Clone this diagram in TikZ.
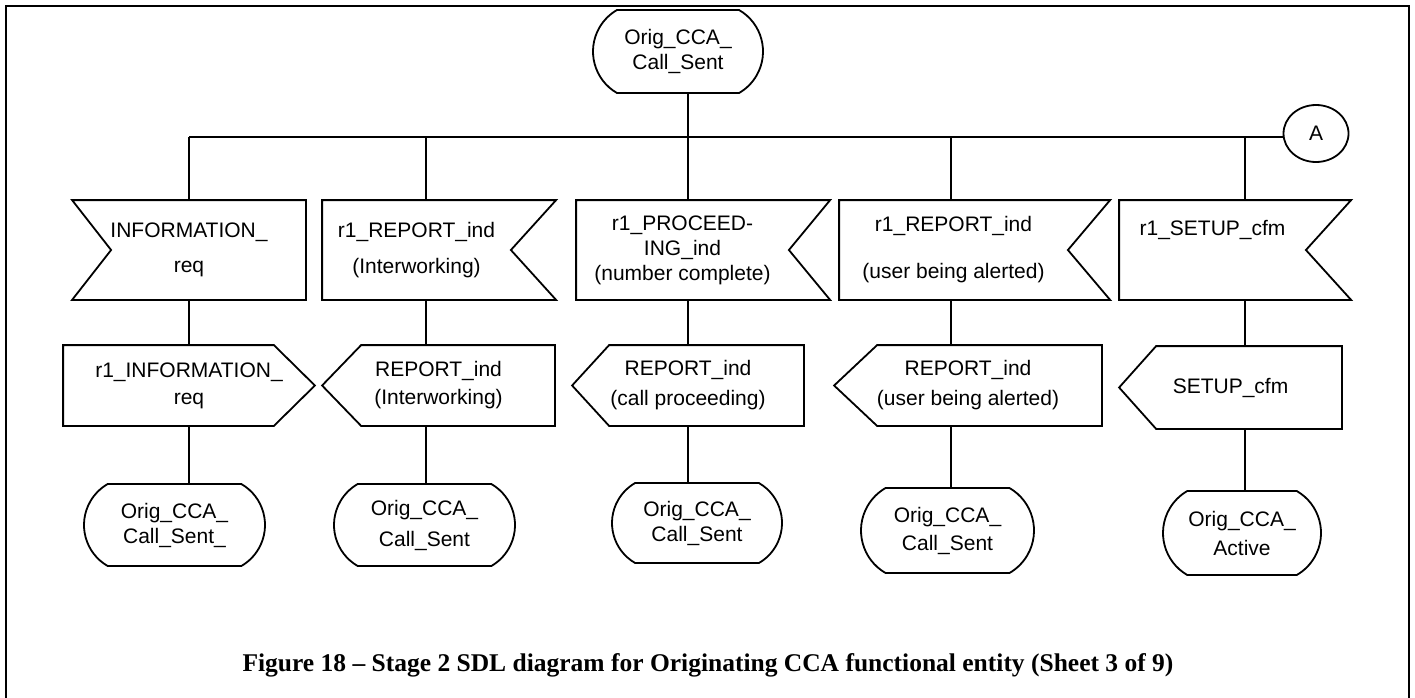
\documentclass[tikz,border=0pt]{standalone}
\usepackage{fontspec}
\setmainfont{Liberation Sans}
\newfontfamily\capfont{Liberation Serif}
\usetikzlibrary{shapes.misc}
\usetikzlibrary{shapes.geometric}
\usetikzlibrary{calc}
\newcommand{\sdlfont}{\fontsize{21}{25}\selectfont}

\begin{document}
\begin{tikzpicture}[x=1pt,y=1pt,yscale=-1,xscale=1,line width=1.8pt,
  sdl/.style={inner sep=0pt,align=center,font=\sdlfont},
  state/.style={sdl,draw,rounded rectangle,rounded rectangle arc length=120},
  sigbox/.style={sdl}]
\useasboundingbox (0,0) rectangle (1415,697);

%Frame
\draw (6,705) -- (6,6) -- (1409,6) -- (1409,705) ;

%State (start)
\node[state,minimum width=170,minimum height=83] (top) at (678,51.5) {Orig\_CCA\_\\Call\_Sent};
%Connector
\node[sdl,draw,ellipse,minimum width=65,minimum height=57] (A) at (1316,133.5) {A};

%Bus and columns
\coordinate (b1) at (189,137);
\coordinate (b2) at (426,137);
\coordinate (b3) at (688,137);
\coordinate (b4) at (951,137);
\coordinate (b5) at (1245,137);
\draw (b1) -- (b1 -| A.west) ;

%Input signals
\node[sigbox,minimum width=232,minimum height=98] (in1) at (189,250) {INFORMATION\_\\[10pt]req};
\draw (in1.north west) -- (in1.north east) -- (in1.south east) -- (in1.south west) -- ($(in1.west)+(39,0)$) -- cycle ;

\node[sigbox,minimum width=187,minimum height=98] (in2) at (416.5,250) {r1\_REPORT\_ind\\[11pt](Interworking)};
\draw (in2.north west) -- ($(in2.north west)+(234,0)$) -- (in2.east) -- ($(in2.south west)+(234,0)$) -- (in2.south west) -- cycle ;

\node[sigbox,minimum width=211,minimum height=98] (in3) at (682.5,250) {r1\_PROCEED-\\ING\_ind\\(number complete)};
\draw (in3.north west) -- ($(in3.north west)+(254,0)$) -- (in3.east) -- ($(in3.south west)+(254,0)$) -- (in3.south west) -- cycle ;

\node[sigbox,minimum width=227,minimum height=98] (in4) at (953.5,250) {r1\_REPORT\_ind\\[22pt](user being alerted)};
\draw (in4.north west) -- ($(in4.north west)+(271,0)$) -- (in4.east) -- ($(in4.south west)+(271,0)$) -- (in4.south west) -- cycle ;

\node[sigbox,minimum width=185,minimum height=98] (in5) at (1212.5,250) {r1\_SETUP\_cfm\\[20pt]~};
\draw (in5.north west) -- ($(in5.north west)+(232,0)$) -- (in5.east) -- ($(in5.south west)+(232,0)$) -- (in5.south west) -- cycle ;

%Output signals
\node[sigbox,minimum width=250,minimum height=79] (out1) at (189,385.5) {r1\_INFORMATION\_\\[2pt]req};
\draw (out1.north west) -- ($(out1.north east)+(-41,0)$) -- (out1.east) -- ($(out1.south east)+(-41,0)$) -- (out1.south west) -- cycle ;

\node[sigbox,minimum width=231,minimum height=79] (out2) at (438.5,385.5) {REPORT\_ind\\[3pt](Interworking)};
\draw (out2.west) -- ($(out2.north west)+(39,0)$) -- (out2.north east) -- (out2.south east) -- ($(out2.south west)+(39,0)$) -- cycle ;

\node[sigbox,minimum width=230,minimum height=79] (out3) at (688,385.5) {REPORT\_ind\\[5pt](call proceeding)};
\draw (out3.west) -- ($(out3.north west)+(37,0)$) -- (out3.north east) -- (out3.south east) -- ($(out3.south west)+(37,0)$) -- cycle ;

\node[sigbox,minimum width=266,minimum height=79] (out4) at (968,385.5) {REPORT\_ind\\[5pt](user being alerted)};
\draw (out4.west) -- ($(out4.north west)+(43,0)$) -- (out4.north east) -- (out4.south east) -- ($(out4.south west)+(43,0)$) -- cycle ;

\node[sigbox,minimum width=221,minimum height=81] (out5) at (1230.5,387.5) {SETUP\_cfm};
\draw (out5.west) -- ($(out5.north west)+(37,0)$) -- (out5.north east) -- (out5.south east) -- ($(out5.south west)+(37,0)$) -- cycle ;

%Next states
\node[state,minimum width=181,minimum height=82] (st1) at (174.5,525) {Orig\_CCA\_\\Call\_Sent\_};
\node[state,minimum width=181,minimum height=82] (st2) at (424.5,525) {Orig\_CCA\_\\[6pt]Call\_Sent};
\node[state,minimum width=170,minimum height=80] (st3) at (697,523) {Orig\_CCA\_\\Call\_Sent};
\node[state,minimum width=173,minimum height=85] (st4) at (947.5,530.5) {Orig\_CCA\_\\[3pt]Call\_Sent};
\node[state,minimum width=158,minimum height=84] (st5) at (1242,533) {Orig\_CCA\_\\[4pt]Active};

%Straight Lines
\draw (top.south -| b3) -- (in3.north -| b3) ;
\draw (b1) -- (in1.north -| b1) ;
\draw (b2) -- (in2.north -| b2) ;
\draw (b4) -- (in4.north -| b4) ;
\draw (b5) -- (in5.north -| b5) ;

\draw (in1.south -| b1) -- (out1.north -| b1) ;
\draw (in2.south -| b2) -- (out2.north -| b2) ;
\draw (in3.south -| b3) -- (out3.north -| b3) ;
\draw (in4.south -| b4) -- (out4.north -| b4) ;
\draw (in5.south -| b5) -- (out5.north -| b5) ;

\draw (out1.south -| b1) -- (st1.north -| b1) ;
\draw (out2.south -| b2) -- (st2.north -| b2) ;
\draw (out3.south -| b3) -- (st3.north -| b3) ;
\draw (out4.south -| b4) -- (st4.north -| b4) ;
\draw (out5.south -| b5) -- (st5.north -| b5) ;

% Text Node
\node[font=\capfont\bfseries\fontsize{25.5}{30}\selectfont] (caption) at (708,665) {Figure 18 – Stage 2 SDL diagram for Originating CCA functional entity (Sheet 3 of 9)};

\end{tikzpicture}
\end{document}
